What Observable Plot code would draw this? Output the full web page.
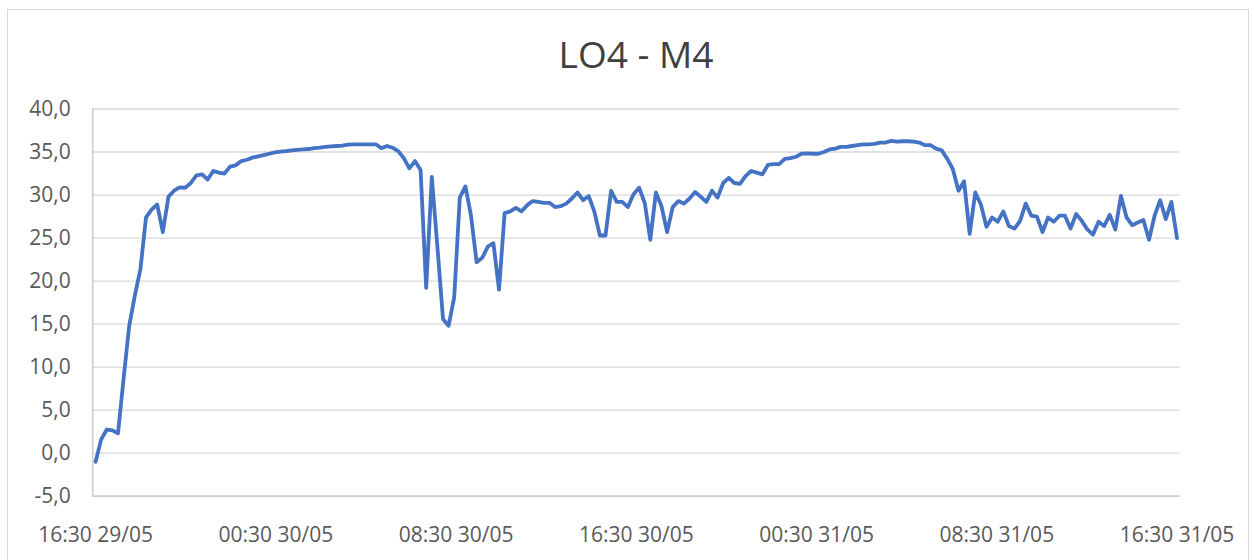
<!DOCTYPE html>
<html>
<head>
<meta charset="utf-8">
<script src="https://cdn.jsdelivr.net/npm/d3@7"></script>
<script src="https://cdn.jsdelivr.net/npm/@observablehq/plot@0.6"></script>
<style>
  html, body { margin: 0; padding: 0; background: #ffffff; }
  body { width: 1254px; height: 560px; overflow: hidden; position: relative; font-family: "Open Sans", sans-serif; }
  #border { position: absolute; left: 7px; top: 9px; width: 1242px; height: 620px; border: 1px solid #d9d9d9; box-sizing: border-box; }
  #title { position: absolute; left: 0; top: 35px; width: 1272px; text-align: center; font-family: "Open Sans", sans-serif; font-size: 37px; line-height: 37px; color: #404040; }
  #chart { position: absolute; left: 0; top: 90px; }
</style>
</head>
<body>
<div id="border"></div>
<div id="title">LO4 - M4</div>
<div id="chart"></div>
<script>
// Chart title
const chartTitle = "LO4 - M4";

// Measured values (15-minute readings from 16:30 29/05 to 16:30 31/05)
const values = [
  -1.0, 1.6, 2.75, 2.65, 2.3, 8.7, 14.8, 18.3, 21.4, 27.4,
  28.3, 28.9, 25.7, 29.8, 30.5, 30.9, 30.85, 31.4, 32.3, 32.4,
  31.8, 32.8, 32.6, 32.5, 33.3, 33.45, 33.95, 34.1, 34.35, 34.5,
  34.65, 34.8, 34.95, 35.05, 35.1, 35.2, 35.25, 35.3, 35.35, 35.45,
  35.5, 35.6, 35.65, 35.7, 35.75, 35.85, 35.9, 35.9, 35.9, 35.9,
  35.9, 35.45, 35.7, 35.5, 35.1, 34.3, 33.1, 33.95, 32.9, 19.2,
  32.1, 24.0, 15.6, 14.8, 18.1, 29.7, 31.0, 27.6, 22.2, 22.7,
  24.0, 24.4, 19.0, 27.9, 28.1, 28.5, 28.1, 28.8, 29.3, 29.2,
  29.1, 29.1, 28.6, 28.7, 29.0, 29.6, 30.3, 29.4, 29.9, 28.1,
  25.3, 25.3, 30.5, 29.2, 29.2, 28.6, 30.1, 30.85, 29.1, 24.8,
  30.3, 28.7, 25.7, 28.6, 29.3, 29.0, 29.6, 30.35, 29.8, 29.2,
  30.5, 29.7, 31.4, 32.0, 31.4, 31.3, 32.2, 32.8, 32.6, 32.4,
  33.5, 33.6, 33.6, 34.2, 34.3, 34.45, 34.8, 34.85, 34.8, 34.8,
  35.0, 35.3, 35.4, 35.6, 35.6, 35.7, 35.8, 35.9, 35.9, 35.95,
  36.1, 36.1, 36.3, 36.2, 36.25, 36.25, 36.2, 36.1, 35.8, 35.8,
  35.4, 35.2, 34.2, 33.0, 30.5, 31.6, 25.5, 30.3, 28.9, 26.3,
  27.4, 26.9, 28.1, 26.4, 26.1, 27.0, 29.0, 27.6, 27.5, 25.7,
  27.4, 26.9, 27.6, 27.6, 26.1, 27.8, 27.0, 26.0, 25.4, 26.9,
  26.4, 27.7, 26.0, 29.9, 27.4, 26.5, 26.8, 27.1, 24.8, 27.6,
  29.4, 27.2, 29.2, 25.0
];

// X axis: hours since 16:30 29/05, labels every 8 hours
const totalHours = 48;
const xTickHours = [0, 8, 16, 24, 32, 40, 48];
const xTickLabels = ["16:30 29/05", "00:30 30/05", "08:30 30/05", "16:30 30/05", "00:30 31/05", "08:30 31/05", "16:30 31/05"];

// Y axis ticks
const yTicks = [-5, 0, 5, 10, 15, 20, 25, 30, 35, 40];

const step = totalHours / (values.length - 1);
const data = values.map((v, i) => ({hour: i * step, value: v}));
const xDomain = [-step / 2, totalHours + step / 2];

const fmtY = d => d.toFixed(1).replace(".", ",");

const plot = Plot.plot({
  width: 1254,
  height: 470,
  marginTop: 18.5,
  marginBottom: 64.3,
  marginLeft: 92.3,
  marginRight: 74.7,
  style: {fontFamily: "'Open Sans', sans-serif", fontSize: "21px", color: "#595959", background: "transparent"},
  x: {domain: xDomain},
  y: {domain: [-5, 40]},
  marks: [
    Plot.gridY(yTicks, {stroke: "#d9d9d9", strokeOpacity: 1, strokeWidth: 1.3}),
    Plot.ruleY([yTicks[0]], {stroke: "#c6c6c6", strokeWidth: 1.3}),
    Plot.ruleX([xDomain[0]], {stroke: "#c6c6c6", strokeWidth: 1.3}),
    Plot.axisY({ticks: yTicks, tickFormat: fmtY, tickSize: 0, tickPadding: 22, label: null, fill: "#595959"}),
    Plot.axisX({ticks: xTickHours, tickFormat: (d) => xTickLabels[xTickHours.indexOf(d)], tickSize: 0, tickPadding: 31.2, label: null, fill: "#595959"}),
    Plot.line(data, {x: "hour", y: "value", stroke: "#4472C4", strokeWidth: 3.8, strokeLinejoin: "round", strokeLinecap: "round"})
  ]
});
document.getElementById("chart").appendChild(plot);
document.getElementById("title").textContent = chartTitle;
</script>
</body>
</html>
